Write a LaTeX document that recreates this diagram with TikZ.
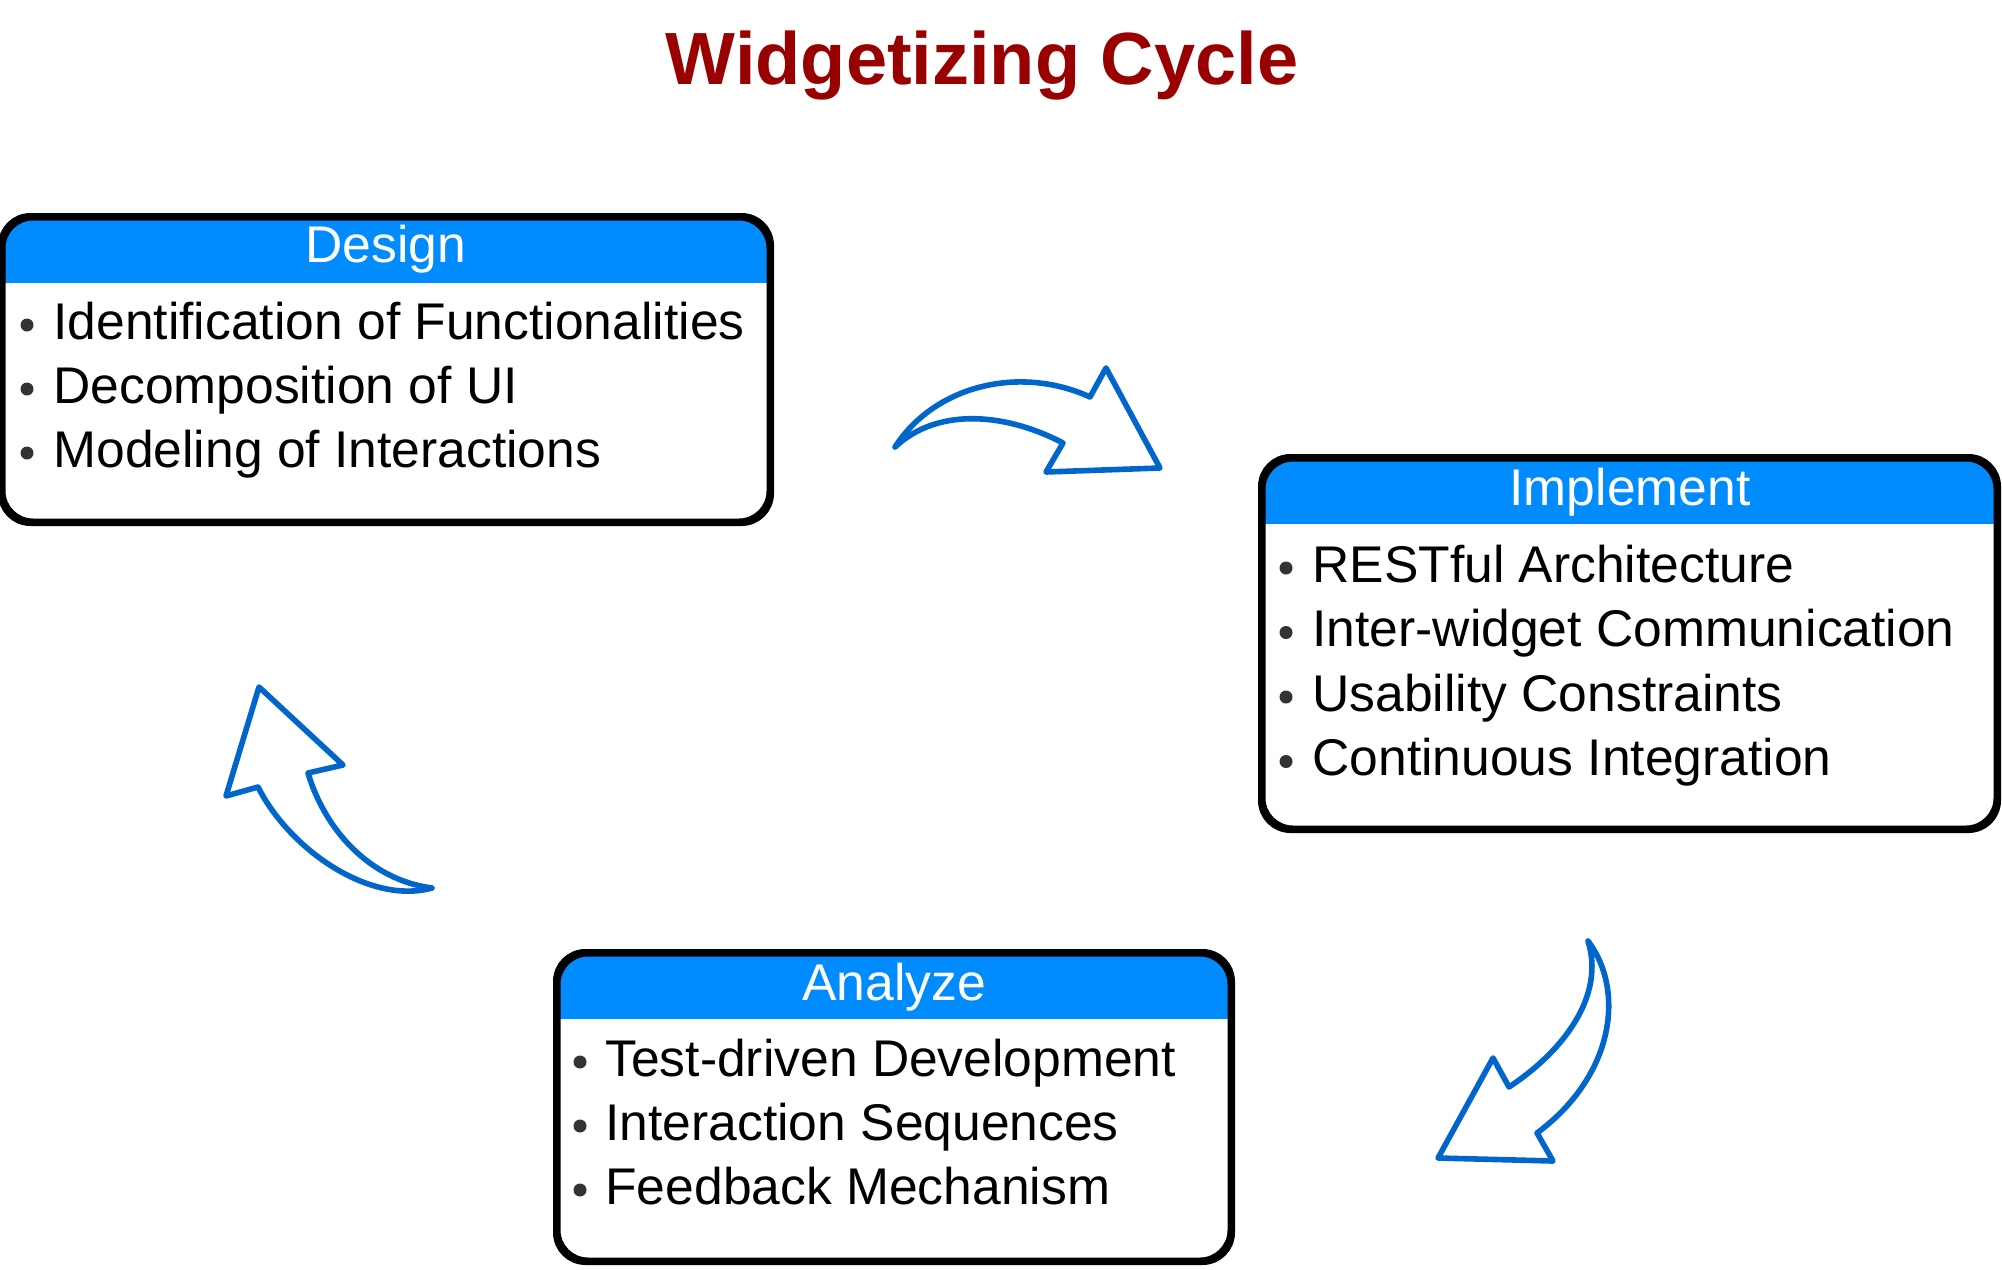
\documentclass[tikz,border=0pt]{standalone}
\usepackage{fontspec}
\setmainfont{Liberation Sans}
\definecolor{headblue}{RGB}{0,140,255}
\definecolor{arrowblue}{RGB}{0,102,204}
\definecolor{titlered}{RGB}{153,0,0}
\definecolor{dotgray}{RGB}{51,51,51}
\tikzset{
  card/.style={draw=black, line width=2.5pt, rounded corners=15pt, fill=white, rectangle, inner sep=0pt,
    path picture={\fill[headblue, sharp corners] (path picture bounding box.north west) rectangle ([yshift=-32.5pt]path picture bounding box.north east);}},
  cardline/.style={draw=black, line width=2.5pt, rounded corners=15pt},
  headtxt/.style={text=white, font=\fontsize{25.8pt}{30pt}\selectfont, inner sep=0pt, anchor=base},
  item/.style={font=\fontsize{25.8pt}{30pt}\selectfont, inner sep=0pt, anchor=base west},
  bdot/.style={circle, fill=dotgray, inner sep=0pt, minimum size=6.5pt},
  blockarrow/.style={draw=arrowblue, line width=2.8pt, line join=round, fill=white},
  titletxt/.style={text=titlered, font=\fontsize{37pt}{44pt}\selectfont\bfseries, inner sep=0pt, anchor=base}
}
\begin{document}
\begin{tikzpicture}[x=0.5pt,y=-0.5pt]
\useasboundingbox[fill=white] (0,0) rectangle (2002,1269);

% title
\node[titletxt] (title) at (982,84) {Widgetizing Cycle};

% Design card
\node[card, minimum width=383pt, minimum height=151.5pt] (design) at (386,369.5) {};
\draw[cardline] (design.north west) rectangle (design.south east);
\node[headtxt] (designh) at (386,262) {Design};
\node[bdot] (d1b) at (27,325) {};
\node[item] (d1) at (53,339) {Identification of Functionalities};
\node[bdot] (d2b) at (27,389) {};
\node[item] (d2) at (53,403) {Decomposition of UI};
\node[bdot] (d3b) at (27,453) {};
\node[item] (d3) at (53,467) {Modeling of Interactions};

% Implement card
\node[card, minimum width=366.5pt, minimum height=184.5pt] (impl) at (1629.5,643.5) {};
\draw[cardline] (impl.north west) rectangle (impl.south east);
\node[headtxt] (implh) at (1630,505) {Implement};
\node[bdot] (i1b) at (1286,568) {};
\node[item] (i1) at (1312,582) {RESTful Architecture};
\node[bdot] (i2b) at (1286,632.5) {};
\node[item] (i2) at (1312,646.5) {Inter-widget Communication};
\node[bdot] (i3b) at (1286,697) {};
\node[item] (i3) at (1312,711) {Usability Constraints};
\node[bdot] (i4b) at (1286,761.5) {};
\node[item] (i4) at (1312,775.5) {Continuous Integration};

% Analyze card
\node[card, minimum width=336pt, minimum height=153pt] (anal) at (894,1107) {};
\draw[cardline] (anal.north west) rectangle (anal.south east);
\node[headtxt] (analh) at (894,1000) {Analyze};
\node[bdot] (a1b) at (580,1062) {};
\node[item] (a1) at (605,1076) {Test-driven Development};
\node[bdot] (a2b) at (580,1126) {};
\node[item] (a2) at (605,1140) {Interaction Sequences};
\node[bdot] (a3b) at (580,1190) {};
\node[item] (a3) at (605,1204) {Feedback Mechanism};

% arrow Design -> Implement
\draw[blockarrow] (895,447) .. controls (935,385) and (1020,365) .. (1090,397)
  -- (1106,368) -- (1160,468) -- (1046,472) -- (1063,443)
  .. controls (1010,415) and (940,405) .. (895,447) -- cycle;

% arrow Implement -> Analyze
\draw[blockarrow] (1588,941) .. controls (1625,990) and (1615,1075) .. (1537,1133)
  -- (1553,1161) -- (1438,1158) -- (1493,1058) -- (1509,1087)
  .. controls (1565,1050) and (1605,995) .. (1588,941) -- cycle;

% arrow Analyze -> Design
\draw[blockarrow] (432,888) .. controls (370,905) and (290,850) .. (258,787)
  -- (226,796) -- (259,687) -- (343,765) -- (308,773)
  .. controls (325,830) and (370,880) .. (432,888) -- cycle;
\end{tikzpicture}
\end{document}
